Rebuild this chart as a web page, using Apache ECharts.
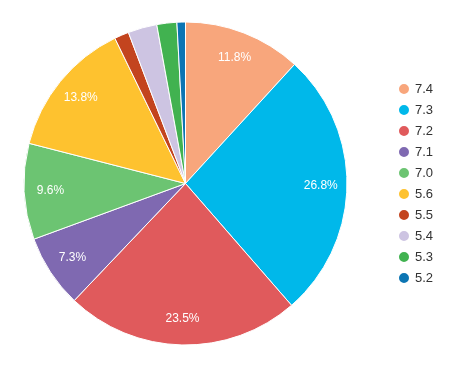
<!DOCTYPE html>
<html>
<head>
<meta charset="utf-8">
<script src="https://cdn.jsdelivr.net/npm/echarts@6/dist/echarts.min.js"></script>
<style>html,body{margin:0;padding:0;background:#fff;}#c{width:473px;height:373px;}</style>
</head>
<body>
<div id="c"></div>
<script>
const categories = ['7.4', '7.3', '7.2', '7.1', '7.0', '5.6', '5.5', '5.4', '5.3', '5.2'];
const values = [11.8, 26.8, 23.5, 7.3, 9.6, 13.8, 1.45, 2.9, 2.0, 0.85];
const colors = ['#f8a67c', '#00b8ea', '#e05a5c', '#7f69b1', '#6cc472', '#fec22f', '#c3441e', '#cdc4e2', '#41b250', '#0c75b3'];

const data = categories.map((c, i) => ({ name: c, value: values[i], itemStyle: { color: colors[i] } }));
const labelData = categories.map((c, i) => ({ name: c, value: values[i] }));

const chart = echarts.init(document.getElementById('c'), null, { renderer: 'canvas' });
chart.setOption({
  backgroundColor: '#ffffff',
  animation: false,
  legend: {
    orient: 'vertical',
    left: 392,
    top: 77,
    icon: 'circle',
    itemWidth: 12,
    itemHeight: 12,
    itemGap: 7,
    textStyle: { fontSize: 13, color: '#333', fontFamily: 'Arial, "Liberation Sans", sans-serif' },
    data: categories
  },
  series: [
    {
      type: 'pie',
      center: [185.5, 183.5],
      radius: [0, 161.5],
      startAngle: 90,
      clockwise: true,
      silent: true,
      label: { show: false },
      labelLine: { show: false },
      itemStyle: { borderColor: '#fff', borderWidth: 1 },
      data: data
    },
    {
      type: 'pie',
      center: [185.5, 183.5],
      radius: [103, 161.5],
      startAngle: 90,
      clockwise: true,
      silent: true,
      legendHoverLink: false,
      itemStyle: { color: 'rgba(0,0,0,0)' },
      label: {
        show: true,
        position: 'inside',
        color: '#fff',
        fontSize: 12,
        fontFamily: 'Arial, "Liberation Sans", sans-serif',
        formatter: function (p) { return p.value >= 5 ? p.value.toFixed(1) + '%' : ''; }
      },
      labelLine: { show: false },
      data: labelData
    }
  ]
});
</script>
</body>
</html>
